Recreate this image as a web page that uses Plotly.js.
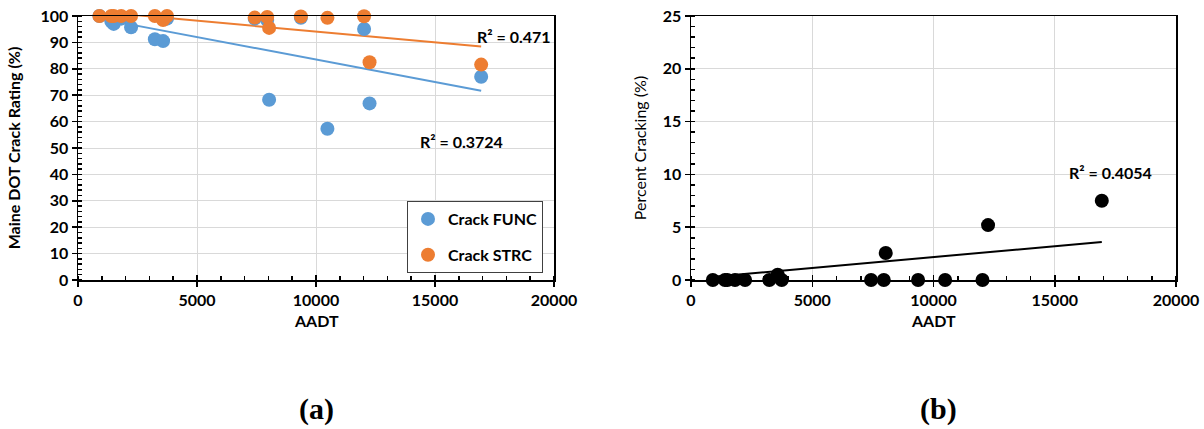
<!DOCTYPE html>
<html>
<head>
<meta charset="utf-8">
<script src="https://cdn.plot.ly/plotly-3.0.1.min.js"></script>
<style>body{margin:0;padding:0;background:#fff;}#chart{width:1204px;height:429px;}</style>
</head>
<body>
<div id="chart"></div>
<script>
// AADT of each road section
const aadt = [900, 1400, 1500, 1815, 2230, 3230, 3575, 3740, 7425, 7950, 8030, 9365, 10480, 12020, 12250, 16940];
// Maine DOT crack rating (%)
const crackFunc = [100, 98, 97, 99, 95.7, 91.2, 90.5, 99, 99, 98.5, 68.3, 99.3, 57.3, 95.1, 66.9, 77.0];
const crackStrc = [100, 100, 100, 100, 100, 100, 98.5, 100, 99.4, 99.6, 95.5, 99.8, 99.3, 99.9, 82.5, 81.6];
// Percent cracking (%)
const pctCracking = [0, 0, 0, 0, 0, 0, 0.5, 0, 0, 0, 2.55, 0, 0, 0, 5.2, 7.5];
// Linear trendline end points
const trendFuncX = [900, 16940], trendFuncY = [99.0, 71.7];
const trendStrcX = [900, 16940], trendStrcY = [101.6, 88.4];
const trendPctX = [900, 16940], trendPctY = [0.3, 3.6];
const r2Labels = ["R² = 0.3724", "R² = 0.471", "R² = 0.4054"];

const BLUE = '#5B9BD5', ORANGE = '#ED7D31';
const FONT = 'Lato, "Open Sans", sans-serif';

const traces = [
  {x: trendFuncX, y: trendFuncY, mode: 'lines', line: {color: BLUE, width: 2}, showlegend: false, xaxis: 'x', yaxis: 'y', hoverinfo: 'skip'},
  {x: trendStrcX, y: trendStrcY, mode: 'lines', line: {color: ORANGE, width: 2}, showlegend: false, xaxis: 'x', yaxis: 'y', hoverinfo: 'skip'},
  {x: aadt, y: crackFunc, mode: 'markers', name: 'Crack FUNC', legendgroup: 'a', marker: {color: BLUE, size: 14}, xaxis: 'x', yaxis: 'y', cliponaxis: false},
  {x: aadt, y: crackStrc, mode: 'markers', name: 'Crack STRC', legendgroup: 'b', marker: {color: ORANGE, size: 14}, xaxis: 'x', yaxis: 'y', cliponaxis: false},
  {x: trendPctX, y: trendPctY, mode: 'lines', line: {color: '#000', width: 2}, showlegend: false, xaxis: 'x2', yaxis: 'y2', hoverinfo: 'skip'},
  {x: aadt, y: pctCracking, mode: 'markers', marker: {color: '#000', size: 14}, showlegend: false, xaxis: 'x2', yaxis: 'y2', cliponaxis: false},
  // empty traces so the inner tick-mark axes are drawn
  {x: [], y: [], mode: 'markers', showlegend: false, xaxis: 'x3', yaxis: 'y'},
  {x: [], y: [], mode: 'markers', showlegend: false, xaxis: 'x4', yaxis: 'y2'}
];

const tickFont = {family: FONT, size: 16, color: '#000', weight: 'bold'};
function xax(domain, anchor) {
  return {
    domain: domain, anchor: anchor, range: [0, 20000], dtick: 5000, tick0: 0,
    showgrid: true, gridcolor: '#d9d9d9', gridwidth: 1, zeroline: false,
    showline: true, linecolor: '#000', linewidth: 1.5, mirror: true,
    ticks: 'outside', ticklen: 5, tickcolor: '#000', tickwidth: 1.5,
    minor: {dtick: 1000, ticks: 'inside', ticklen: 4, tickcolor: '#000', showgrid: false},
    tickfont: tickFont, tickformat: 'd', ticklabelstandoff: 0
  };
}
function xoverlay(over, anchor) {
  return {
    overlaying: over, anchor: anchor, range: [0, 20000], dtick: 5000, tick0: 0,
    showgrid: false, zeroline: false, showline: false, showticklabels: false,
    ticks: 'inside', ticklen: 5, tickcolor: '#000', tickwidth: 1.5
  };
}
function yax(range, dtick, minor, domain, anchor, title, bold, standoff) {
  return {
    domain: domain, anchor: anchor, range: range, dtick: dtick, tick0: 0,
    showgrid: true, gridcolor: '#d9d9d9', gridwidth: 1, zeroline: false,
    showline: true, linecolor: '#000', linewidth: 1.5, mirror: true,
    ticks: 'outside', ticklen: 5, tickcolor: '#000', tickwidth: 1.5,
    minor: {dtick: minor, ticks: 'inside', ticklen: 4, tickcolor: '#000', showgrid: false},
    tickfont: tickFont,
    title: {text: title, font: {family: FONT, size: 16, color: '#000', weight: bold ? 'bold' : 'normal'}, standoff: standoff}
  };
}

const ydom = [149/429, 413/429];
const titleFont = {family: FONT, size: 16, color: '#000', weight: 'bold'};
const layout = {
  width: 1204, height: 429,
  margin: {l: 0, r: 0, t: 0, b: 0},
  paper_bgcolor: '#fff', plot_bgcolor: '#fff',
  font: {family: FONT, color: '#000'},
  xaxis: xax([78/1204, 554/1204], 'y'),
  yaxis: yax([0, 100], 10, 2, ydom, 'x', 'Maine DOT Crack Rating (%)', true, 16),
  xaxis2: xax([691/1204, 1176/1204], 'y2'),
  yaxis2: yax([0, 25], 5, 1, ydom, 'x2', 'Percent Cracking (%)', false, 12),
  xaxis3: xoverlay('x', 'y'),
  xaxis4: xoverlay('x2', 'y2'),
  showlegend: true,
  legend: {
    x: 407/1204, y: (429-201)/429, xanchor: 'left', yanchor: 'top',
    bgcolor: '#fff', bordercolor: '#404040', borderwidth: 1,
    font: {family: FONT, size: 16, color: '#000', weight: 'bold'},
    tracegroupgap: 12, itemwidth: 30
  },
  annotations: [
    {xref: 'x', yref: 'paper', x: 10000, y: (429-320)/429, text: 'AADT', showarrow: false, xanchor: 'center', yanchor: 'middle', font: titleFont},
    {xref: 'x2', yref: 'paper', x: 10000, y: (429-320)/429, text: 'AADT', showarrow: false, xanchor: 'center', yanchor: 'middle', font: titleFont},
    {xref: 'x', yref: 'y', x: 14298, y: 52.3, text: r2Labels[0], showarrow: false, xanchor: 'left', yanchor: 'middle', font: titleFont},
    {xref: 'x', yref: 'y', x: 16680, y: 92.1, text: r2Labels[1], showarrow: false, xanchor: 'left', yanchor: 'middle', font: titleFont},
    {xref: 'x2', yref: 'y2', x: 15500, y: 10.16, text: r2Labels[2], showarrow: false, xanchor: 'left', yanchor: 'middle', font: titleFont},
    {xref: 'paper', yref: 'paper', x: 316/1204, y: (429-409)/429, text: '(a)', showarrow: false, xanchor: 'center', yanchor: 'middle', font: {family: '"Liberation Serif", "Times New Roman", serif', size: 30, color: '#000', weight: 'bold'}},
    {xref: 'paper', yref: 'paper', x: 938/1204, y: (429-409)/429, text: '(b)', showarrow: false, xanchor: 'center', yanchor: 'middle', font: {family: '"Liberation Serif", "Times New Roman", serif', size: 30, color: '#000', weight: 'bold'}}
  ]
};

Plotly.newPlot('chart', traces, layout, {staticPlot: true, displayModeBar: false});
</script>
</body>
</html>
